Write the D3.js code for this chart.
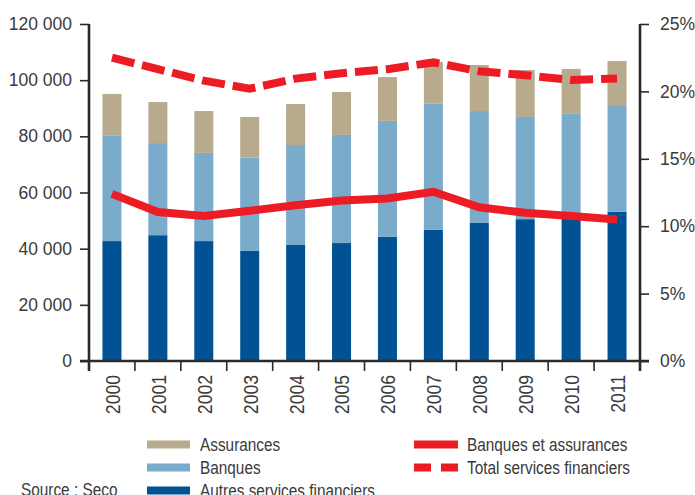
<!DOCTYPE html>
<html>
<head>
<meta charset="utf-8">
<script src="https://cdn.jsdelivr.net/npm/d3@7"></script>
<style>
  body { margin: 0; background: #fff; }
  svg { display: block; }
  .tick-label { font-family: 'Liberation Sans', Arial, sans-serif; font-size: 17.5px; fill: #3a3a3a; }
  .year-label { font-family: 'Liberation Sans', Arial, sans-serif; font-size: 20px; fill: #3a3a3a; }
  .legend-label { font-family: 'Liberation Sans', Arial, sans-serif; font-size: 18.5px; fill: #3a3a3a; }
</style>
</head>
<body>
<svg id="chart" width="695" height="495"></svg>
<script>
// Data
const years = ['2000', '2001', '2002', '2003', '2004', '2005', '2006', '2007', '2008', '2009', '2010', '2011'];
const autres = [42700, 44800, 42700, 39200, 41300, 42000, 44200, 46700, 49300, 50500, 51800, 53100];
const banques = [37500, 32800, 31400, 33200, 35600, 38500, 41300, 44900, 39700, 36400, 36200, 37700];
const assurances = [14900, 14600, 14900, 14500, 14600, 15300, 15600, 14900, 16400, 16700, 16000, 16000];
const banquesAssurances = [12.4, 11.05, 10.75, 11.15, 11.55, 11.9, 12.05, 12.55, 11.4, 11.0, 10.75, 10.5];
const totalServices = [22.5, 21.65, 20.8, 20.2, 20.95, 21.35, 21.65, 22.15, 21.5, 21.2, 20.85, 20.95];
const leftTicks = [0, 20000, 40000, 60000, 80000, 100000, 120000];
const rightTicks = [0, 5, 10, 15, 20, 25];

const colors = {
  autres: '#005294',
  banques: '#7aabcb',
  assurances: '#b8ab8d',
  red: '#ed1c24',
  axis: '#2a2a2a'
};

// the source uses a condensed face, squeeze the text horizontally
const condense = 0.83;

const svg = d3.select('#chart');
const plot = { left: 89, right: 640, top: 24, bottom: 361 };

const x = d3.scaleBand()
  .domain(years)
  .range([plot.left, plot.right])
  .paddingInner(0.586)
  .paddingOuter(0.293);

const yLeft = d3.scaleLinear().domain([0, 120000]).range([plot.bottom, plot.top]);
const yRight = d3.scaleLinear().domain([0, 25]).range([plot.bottom, plot.top]);

// Stacked bars
const rows = years.map((year, i) => ({
  year,
  autres: autres[i],
  banques: banques[i],
  assurances: assurances[i]
}));
const stack = d3.stack().keys(['autres', 'banques', 'assurances']);
const series = stack(rows);

svg.append('g')
  .selectAll('g')
  .data(series)
  .join('g')
  .attr('fill', d => colors[d.key])
  .selectAll('rect')
  .data(d => d)
  .join('rect')
  .attr('x', d => x(d.data.year))
  .attr('width', x.bandwidth())
  .attr('y', d => yLeft(d[1]))
  .attr('height', d => yLeft(d[0]) - yLeft(d[1]));

// Lines (right axis)
const line = d3.line()
  .x((d, i) => x(years[i]) + x.bandwidth() / 2)
  .y(d => yRight(d));

svg.append('path')
  .datum(totalServices)
  .attr('d', line)
  .attr('fill', 'none')
  .attr('stroke', colors.red)
  .attr('stroke-width', 8)
  .attr('stroke-dasharray', '23,8');

svg.append('path')
  .datum(banquesAssurances)
  .attr('d', line)
  .attr('fill', 'none')
  .attr('stroke', colors.red)
  .attr('stroke-width', 8);

// Axes
const fr = d3.formatLocale({ decimal: ',', thousands: ' ', grouping: [3], currency: ['', ''] });
const fmtThousands = fr.format(',d');

const leftAxis = svg.append('g')
  .attr('transform', `translate(${plot.left},0)`)
  .call(d3.axisLeft(yLeft).tickValues(leftTicks).tickFormat(fmtThousands).tickSize(9).tickPadding(8));

const rightAxis = svg.append('g')
  .attr('transform', `translate(${plot.right},0)`)
  .call(d3.axisRight(yRight).tickValues(rightTicks).tickFormat(d => d + '%').tickSize(9).tickPadding(11));

[leftAxis, rightAxis].forEach(g => {
  g.select('.domain').remove();
  g.selectAll('.tick line').attr('stroke', colors.axis).attr('stroke-width', 1.6);
  g.selectAll('.tick text').attr('class', 'tick-label').attr('font-family', null).attr('font-size', null).attr('fill', null);
});

// x axis ticks sit between bars
const bounds = years.map(y => x(y) - x.step() * x.paddingInner() / 2).concat([plot.right]);
svg.append('g')
  .selectAll('line')
  .data(bounds)
  .join('line')
  .attr('x1', d => d).attr('x2', d => d)
  .attr('y1', plot.bottom).attr('y2', plot.bottom + 10)
  .attr('stroke', colors.axis)
  .attr('stroke-width', 1.6);

// axis lines
svg.append('line')
  .attr('x1', plot.left - 9).attr('x2', plot.right + 9)
  .attr('y1', plot.bottom).attr('y2', plot.bottom)
  .attr('stroke', colors.axis).attr('stroke-width', 2.6);
[plot.left, plot.right].forEach(px => {
  svg.append('line')
    .attr('x1', px).attr('x2', px)
    .attr('y1', plot.top).attr('y2', plot.bottom + 10)
    .attr('stroke', colors.axis).attr('stroke-width', 2.6);
});

// Year labels, rotated
svg.append('g')
  .selectAll('text')
  .data(years)
  .join('text')
  .attr('class', 'year-label')
  .attr('text-anchor', 'end')
  .attr('dominant-baseline', 'central')
  .attr('transform', d => `translate(${x(d) + x.bandwidth() / 2 + 1},${plot.bottom + 14}) rotate(-90) scale(0.88,1)`)
  .text(d => d);

// Legend
const barLegend = [
  { label: 'Assurances', color: colors.assurances },
  { label: 'Banques', color: colors.banques },
  { label: 'Autres services financiers', color: colors.autres }
];
const lineLegend = [
  { label: 'Banques et assurances', dash: null },
  { label: 'Total services financiers', dash: '17,10' }
];

function legendText(tx, ty, label) {
  svg.append('text')
    .attr('class', 'legend-label')
    .attr('transform', `translate(${tx},${ty}) scale(${condense},1)`)
    .text(label);
}

barLegend.forEach((item, i) => {
  const yc = 444.5 + i * 23;
  svg.append('rect')
    .attr('x', 147).attr('y', yc - 4)
    .attr('width', 43).attr('height', 8)
    .attr('fill', item.color);
  legendText(200, yc + 6, item.label);
});

lineLegend.forEach((item, i) => {
  const yc = 444.5 + i * 23;
  svg.append('line')
    .attr('x1', 414).attr('x2', 458)
    .attr('y1', yc).attr('y2', yc)
    .attr('stroke', colors.red)
    .attr('stroke-width', 8)
    .attr('stroke-dasharray', item.dash);
  legendText(467, yc + 6, item.label);
});

legendText(21, 496, 'Source : Seco');
</script>
</body>
</html>
